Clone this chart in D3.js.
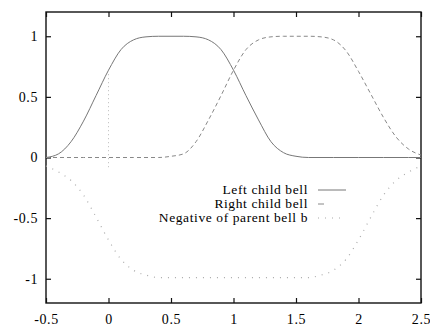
<!DOCTYPE html>
<html>
<head>
<meta charset="utf-8">
<script src="https://cdnjs.cloudflare.com/ajax/libs/d3/7.8.5/d3.min.js"></script>
<style>
  body { margin: 0; background: #fff; }
  svg text { font-family: "Liberation Serif", "DejaVu Serif", serif; fill: #000; }
</style>
</head>
<body>
<div id="chart"></div>
<script>
// sample positions along x (shared by all three curves)
const xs = [-0.5, -0.4, -0.3, -0.2, -0.1, 0, 0.1, 0.2, 0.3, 0.4, 0.5, 0.6, 0.7, 0.8, 0.9, 1.0,
  1.1, 1.2, 1.3, 1.4, 1.5, 1.6, 1.7, 1.8, 1.9, 2.0, 2.1, 2.2, 2.3, 2.4, 2.5];

const leftChild = [0.0, 0.03, 0.13, 0.30, 0.51, 0.72, 0.89, 0.97, 0.995, 1.0, 1.0, 1.0, 0.995, 0.97, 0.89, 0.72,
  0.51, 0.31, 0.13, 0.04, 0.01, 0, 0, 0, 0, 0, 0, 0, 0, 0, 0];

const rightChild = [0, 0, 0, 0, 0, 0, 0, 0, 0, 0, 0.01, 0.03, 0.13, 0.31, 0.51, 0.72,
  0.89, 0.97, 0.995, 1.0, 1.0, 1.0, 0.995, 0.97, 0.88, 0.71, 0.52, 0.33, 0.17, 0.07, 0.02];

const negParent = [-0.07, -0.12, -0.19, -0.31, -0.49, -0.68, -0.84, -0.93, -0.97, -0.99, -0.99, -0.99, -0.99, -0.99, -0.99, -0.99,
  -0.99, -0.99, -0.99, -0.99, -0.99, -0.99, -0.97, -0.93, -0.84, -0.68, -0.49, -0.31, -0.19, -0.12, -0.07];

// dotted marker at x = 0
const markerX = [0, 0];
const markerY = [-0.08, 0.71];

const xTicks = [-0.5, 0, 0.5, 1, 1.5, 2, 2.5];
const yTicks = [-1, -0.5, 0, 0.5, 1];

const seriesNames = ['Left child bell', 'Right child bell', 'Negative of parent bell b'];

const width = 430;
const height = 328;
const margin = { top: 12, right: 9, bottom: 25, left: 46 };

const svg = d3.select('#chart')
  .append('svg')
  .attr('width', width)
  .attr('height', height);

const xScale = d3.scaleLinear()
  .domain([-0.5, 2.5])
  .range([margin.left, width - margin.right]);

const yScale = d3.scaleLinear()
  .domain([-1.2, 1.2])
  .range([height - margin.bottom, margin.top]);

const fmt = d => String(d);

// axes, gnuplot style: ticks point inward on all four sides
const axisFont = g => g.selectAll('text')
  .style('font-size', '14px')
  .style('letter-spacing', '0.6px');

svg.append('g')
  .attr('transform', `translate(0, ${height - margin.bottom})`)
  .call(d3.axisBottom(xScale).tickValues(xTicks).tickFormat(fmt).tickSize(-5).tickPadding(11))
  .call(axisFont);

svg.append('g')
  .attr('transform', `translate(${margin.left}, 0)`)
  .call(d3.axisLeft(yScale).tickValues(yTicks).tickFormat(fmt).tickSize(-5).tickPadding(8))
  .call(axisFont);

svg.append('g')
  .attr('transform', `translate(0, ${margin.top})`)
  .call(d3.axisTop(xScale).tickValues(xTicks).tickFormat('').tickSize(-5));

svg.append('g')
  .attr('transform', `translate(${width - margin.right}, 0)`)
  .call(d3.axisRight(yScale).tickValues(yTicks).tickFormat('').tickSize(-5));

svg.selectAll('.domain').remove();
svg.selectAll('.tick line').attr('stroke', '#111').attr('stroke-width', 1.2);

// frame
svg.append('rect')
  .attr('x', margin.left)
  .attr('y', margin.top)
  .attr('width', width - margin.left - margin.right)
  .attr('height', height - margin.top - margin.bottom)
  .attr('fill', 'none')
  .attr('stroke', '#111')
  .attr('stroke-width', 1.4);

const line = d3.line()
  .x(d => xScale(d[0]))
  .y(d => yScale(d[1]))
  .curve(d3.curveMonotoneX);

const styles = [
  { stroke: '#777', dash: null, w: 1 },
  { stroke: '#888', dash: '4,3', w: 1 },
  { stroke: '#aaa', dash: '1,6', w: 1.2 }
];

const series = [leftChild, rightChild, negParent];

series.forEach((vals, i) => {
  svg.append('path')
    .datum(xs.map((x, j) => [x, vals[j]]))
    .attr('fill', 'none')
    .attr('stroke', styles[i].stroke)
    .attr('stroke-width', styles[i].w)
    .attr('stroke-dasharray', styles[i].dash)
    .attr('d', line);
});

// vertical dotted marker
svg.append('path')
  .datum(markerX.map((x, j) => [x, markerY[j]]))
  .attr('fill', 'none')
  .attr('stroke', '#bbb')
  .attr('stroke-width', 1)
  .attr('stroke-dasharray', '1,3')
  .attr('d', d3.line().x(d => xScale(d[0])).y(d => yScale(d[1])));

// legend
const legend = svg.append('g');
seriesNames.forEach((name, i) => {
  const cy = 190 + i * 14;
  legend.append('text')
    .attr('x', 308)
    .attr('y', cy + 4)
    .attr('text-anchor', 'end')
    .style('font-size', '13.5px')
    .style('letter-spacing', '0.6px')
    .text(name);
  legend.append('line')
    .attr('x1', 318)
    .attr('x2', 346)
    .attr('y1', cy)
    .attr('y2', cy)
    .attr('stroke', styles[i].stroke)
    .attr('stroke-width', styles[i].w)
    .attr('stroke-dasharray', i === 1 ? '6,30' : styles[i].dash);
});
</script>
</body>
</html>
